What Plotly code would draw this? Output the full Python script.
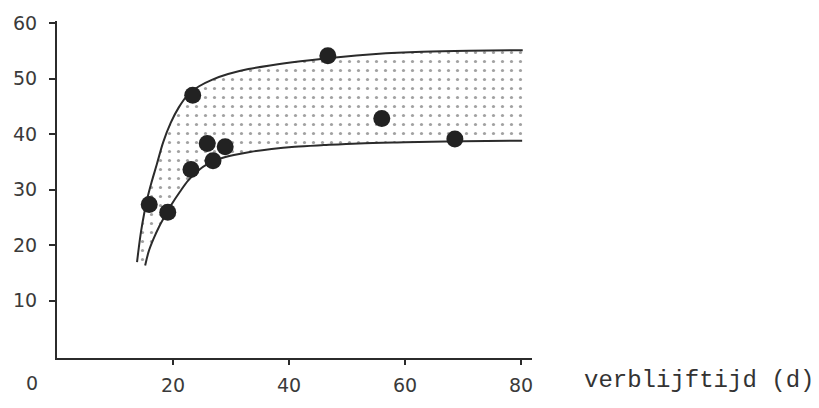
import plotly.graph_objects as go

# Band boundaries
upper_x = [13.8, 14.1, 14.5, 15.0, 15.6, 16.3, 17.2, 18.3, 19.6, 21.0, 22.6, 24.5, 26.8, 29.5, 33.0, 37.0, 42.0, 48.0, 55.0, 63.0, 71.0, 80.3]
upper_y = [16.9, 19.5, 22.5, 25.5, 28.5, 31.3, 34.5, 38.5, 42.0, 44.8, 47.1, 48.6, 49.8, 50.8, 51.7, 52.4, 53.1, 53.8, 54.4, 54.8, 55.0, 55.1]
lower_x = [15.2, 15.8, 16.6, 17.6, 18.6, 19.8, 21.2, 22.6, 24.2, 26.0, 28.0, 30.5, 33.5, 37.0, 41.0, 46.0, 52.0, 60.0, 70.0, 80.2]
lower_y = [16.3, 18.8, 21.0, 23.3, 25.2, 27.4, 29.6, 31.6, 33.3, 34.6, 35.5, 36.2, 36.8, 37.3, 37.7, 38.0, 38.3, 38.5, 38.7, 38.8]

# Measured points
pts_x = [15.9, 19.1, 23.4, 23.1, 25.9, 26.9, 29.0, 46.7, 56.0, 68.6]
pts_y = [27.3, 25.9, 47.0, 33.6, 38.3, 35.2, 37.7, 54.1, 42.8, 39.1]

x_ticks = [20, 40, 60, 80]
y_ticks = [10, 20, 30, 40, 50, 60]
x_title = "verblijftijd (d)"

ink = "#2b2b2b"
fig = go.Figure()
fig.add_trace(go.Scatter(x=lower_x, y=lower_y, mode="lines",
                         line=dict(color=ink, width=2, shape="spline"), hoverinfo="skip"))
fig.add_trace(go.Scatter(x=upper_x, y=upper_y, mode="lines",
                         line=dict(color=ink, width=2, shape="spline"),
                         fill="tonexty", fillcolor="rgba(0,0,0,0)",
                         fillpattern=dict(shape=".", fgcolor="#444444", bgcolor="white",
                                          size=9, solidity=0.1),
                         hoverinfo="skip"))
fig.add_trace(go.Scatter(x=pts_x, y=pts_y, mode="markers",
                         marker=dict(color="#222222", size=17, line=dict(width=0))))

tickfont = dict(family="DejaVu Sans, Arial, sans-serif", size=19, color="#3a3a3a")
fig.update_layout(
    width=819, height=408,
    margin=dict(l=57, r=287, t=18, b=48),
    paper_bgcolor="white", plot_bgcolor="white",
    showlegend=False,
    xaxis=dict(range=[0, 81.9], tickvals=x_ticks, ticks="outside", ticklen=5, tickwidth=2,
               tickcolor=ink, showline=True, linecolor=ink, linewidth=2, showgrid=False,
               zeroline=False, tickfont=tickfont, ticklabelstandoff=4),
    yaxis=dict(range=[-0.36, 60.36], tickvals=y_ticks, ticks="outside", ticklen=6, tickwidth=2,
               tickcolor=ink, showline=True, linecolor=ink, linewidth=2, showgrid=False,
               zeroline=False, tickfont=tickfont, ticklabelstandoff=8),
    annotations=[
        dict(text="0", x=-25 / 475, y=-0.073, xref="paper", yref="paper", showarrow=False,
             font=tickfont, xanchor="center", yanchor="middle"),
        dict(text=x_title, x=1.105, y=-0.067, xref="paper", yref="paper", showarrow=False,
             font=dict(family="Liberation Mono, Courier New, monospace", size=24, color="#333333"),
             xanchor="left", yanchor="middle"),
    ],
)
fig.write_html("out.html")
